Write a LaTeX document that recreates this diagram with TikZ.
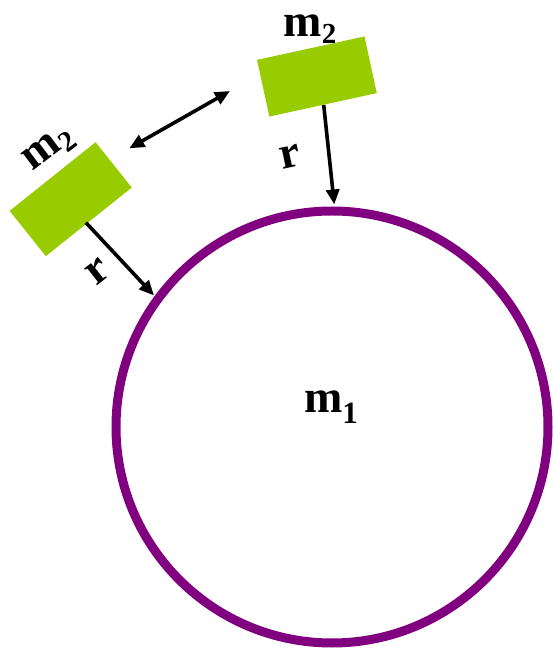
\documentclass[tikz,border=0pt]{standalone}
\usepackage{fontspec}
\setmainfont{Liberation Serif}
\usetikzlibrary{arrows.meta}
\definecolor{massgreen}{HTML}{99CC00}
\definecolor{ringpurple}{HTML}{800080}
\tikzset{
  block/.style={fill=massgreen, draw=none, minimum width=110pt, minimum height=58pt, inner sep=0pt},
  lbl/.style={font=\fontsize{46}{46}\selectfont\bfseries, inner sep=0pt},
  vec/.style={line width=3.6pt, -{Triangle[length=15pt,width=13pt]}},
  dvec/.style={line width=3.6pt, {Triangle[length=15pt,width=13pt]}-{Triangle[length=15pt,width=13pt]}}
}
\newcommand{\subtwo}{\raisebox{-7pt}{\fontsize{29}{29}\selectfont 2}}
\newcommand{\subone}{\raisebox{-11pt}{\fontsize{31}{31}\selectfont 1}}
\begin{document}
\begin{tikzpicture}[x=1pt,y=1pt]
\useasboundingbox (0,0) rectangle (554,651);
% big mass
\node[circle, draw=ringpurple, line width=9pt, minimum size=432pt, inner sep=0pt] (ring) at (332,224) {};
\node[lbl] (m1) at (331,244) {m\subone};
% top mass
\node[block, rotate=12.3] (topblock) at (316.9,574.5) {};
\node[lbl] (topm) at (310,622) {m\subtwo};
% left mass
\node[block, rotate=38.6] (leftblock) at (70.7,451.8) {};
\node[lbl, rotate=37] (leftm) at (49.5,501.5) {m\subtwo};
% r arrows
\coordinate (topstart) at (323.7,546);
\coordinate (toptip) at (334.3,446.5);
\draw[vec] (topstart) -- (toptip);
\node[lbl, rotate=12] (topr) at (290,494) {r};
\coordinate (leftstart) at (86,428.3);
\coordinate (lefttip) at (154,355.5);
\draw[vec] (leftstart) -- (lefttip);
\node[lbl, rotate=38] (leftr) at (98,379) {r};
% double arrow
\coordinate (da) at (129.3,502.7);
\coordinate (db) at (230,560);
\draw[dvec] (da) -- (db);
\end{tikzpicture}
\end{document}
